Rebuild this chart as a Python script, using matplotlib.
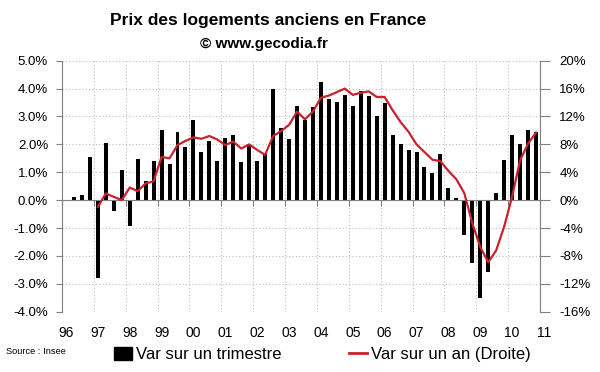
import numpy as np
import matplotlib
matplotlib.use("Agg")
import matplotlib.pyplot as plt
from matplotlib.patches import Patch
from matplotlib.lines import Line2D
from matplotlib.transforms import blended_transform_factory, offset_copy

plt.rcParams['font.family'] = ['Liberation Sans', 'DejaVu Sans']

# Quarterly data, 1996 Q1 .. 2010 Q4 (60 quarters)
var_trimestre = [np.nan, 0.12, 0.18, 1.55,
                 -2.78, 2.06, -0.38, 1.08,
                 -0.92, 1.49, 0.69, 1.40,
                 2.53, 1.29, 2.45, 1.91,
                 2.87, 1.71, 2.12, 1.41,
                 2.23, 2.32, 1.37, 1.97,
                 1.41, 1.64, 4.00, 2.57,
                 2.19, 3.38, 2.89, 3.35,
                 4.24, 3.61, 3.53, 3.76,
                 3.38, 3.91, 3.74, 3.01,
                 3.47, 2.33, 2.03, 1.79,
                 1.73, 1.20, 0.99, 1.64,
                 0.45, 0.07, -1.25, -2.25,
                 -3.51, -2.57, 0.26, 1.43,
                 2.32, 2.00, 2.51, 2.43]

var_an = [np.nan, np.nan, np.nan, np.nan,
          -0.96, 0.96, 0.48, 0.0,
          1.8, 1.3, 2.4, 2.7,
          6.2, 6.0, 7.9, 8.5,
          9.0, 8.8, 9.2, 8.7,
          7.9, 8.4, 7.4, 8.0,
          7.2, 6.5, 9.2, 9.9,
          10.8, 12.7, 11.6, 12.7,
          14.7, 15.0, 15.5, 16.0,
          15.1, 15.4, 15.6, 14.8,
          14.8, 12.9, 11.2, 9.8,
          8.0, 6.9, 5.8, 5.6,
          4.2, 3.0, 1.0, -3.3,
          -6.7, -8.9, -7.2, -3.8,
          0.5, 5.7, 8.1, 9.7]

year_labels = ['96', '97', '98', '99', '00', '01', '02', '03',
               '04', '05', '06', '07', '08', '09', '10', '11']
left_ticks = [-4, -3, -2, -1, 0, 1, 2, 3, 4, 5]
left_labels = ['-4.0%', '-3.0%', '-2.0%', '-1.0%', '0.0%',
               '1.0%', '2.0%', '3.0%', '4.0%', '5.0%']
right_ticks = [-16, -12, -8, -4, 0, 4, 8, 12, 16, 20]
right_labels = ['-16%', '-12%', '-8%', '-4%', '0%',
                '4%', '8%', '12%', '16%', '20%']

GREY = '#808080'
GRID = '#BDBDBD'
RED = '#C8232C'

fig = plt.figure(figsize=(6.0, 3.72), dpi=100)
ax = fig.add_axes([0.1033, 0.162, 0.7967, 0.6748])

x = np.arange(len(var_trimestre))
ax.bar(x, var_trimestre, width=0.5, color='black', zorder=3)
ax.set_xlim(-0.5, len(var_trimestre) - 0.5)
ax.set_ylim(-4, 5)

# grid
for yv in left_ticks:
    ax.axhline(yv, color=GRID, lw=0.8, ls=(0, (1, 2)), zorder=1)
year_bounds = np.arange(0, len(var_trimestre) + 1, 4) - 0.5
for xv in year_bounds:
    ax.axvline(xv, color=GRID, lw=0.8, ls=(0, (1, 2)), zorder=1)

# spines
for s in ['top', 'right']:
    ax.spines[s].set_visible(False)
ax.spines['left'].set_color(GREY)
ax.spines['bottom'].set_position(('data', 0))
ax.spines['bottom'].set_color(GREY)
ax.spines['bottom'].set_zorder(4)

ax.set_yticks(left_ticks)
ax.set_yticklabels(left_labels)
ax.tick_params(axis='y', direction='out', length=4, color=GREY, pad=6,
               labelsize=9.5, labelcolor='black')
ax.set_xticks(year_bounds)
ax.set_xticklabels([])
ax.tick_params(axis='x', direction='out', length=4, color=GREY)

# year labels at the bottom (category axis labels, low position)
trans = offset_copy(blended_transform_factory(ax.transData, ax.transAxes),
                    fig=fig, x=0, y=-21, units='dots')
for i, lab in enumerate(year_labels):
    ax.text(4 * i, 0, lab, transform=trans, ha='center', va='center',
            fontsize=10, clip_on=False)

# right axis
ax2 = ax.twinx()
ax2.plot(x, var_an, color=RED, lw=1.6, zorder=5)
ax2.set_ylim(-16, 20)
ax2.set_yticks(right_ticks)
ax2.set_yticklabels(right_labels)
for s in ['top', 'left', 'bottom']:
    ax2.spines[s].set_visible(False)
ax2.spines['right'].set_color(GREY)
ax2.tick_params(axis='y', direction='out', length=7, color=GREY, pad=7,
                labelsize=9.5, labelcolor='black')

# titles
fig.text(0.447, 0.946, 'Prix des logements anciens en France',
         ha='center', va='center', fontsize=12.5, fontweight='bold')
fig.text(0.44, 0.882, '\u00a9 www.gecodia.fr',
         ha='center', va='center', fontsize=11, fontweight='bold')
fig.text(0.01, 0.056, 'Source : Insee', ha='left', va='center', fontsize=6.7)

handles = [Patch(facecolor='black', edgecolor='black'),
           Line2D([0], [0], color=RED, lw=2)]
fig.legend(handles, ['Var sur un trimestre', 'Var sur un an (Droite)'],
           loc='center left', bbox_to_anchor=(0.19, 0.046), ncol=2,
           frameon=False, fontsize=12, handlelength=1.1, handleheight=0.75,
           handletextpad=0.25, columnspacing=4.0, borderpad=0, borderaxespad=0)

fig.savefig('out.png', dpi=100)
